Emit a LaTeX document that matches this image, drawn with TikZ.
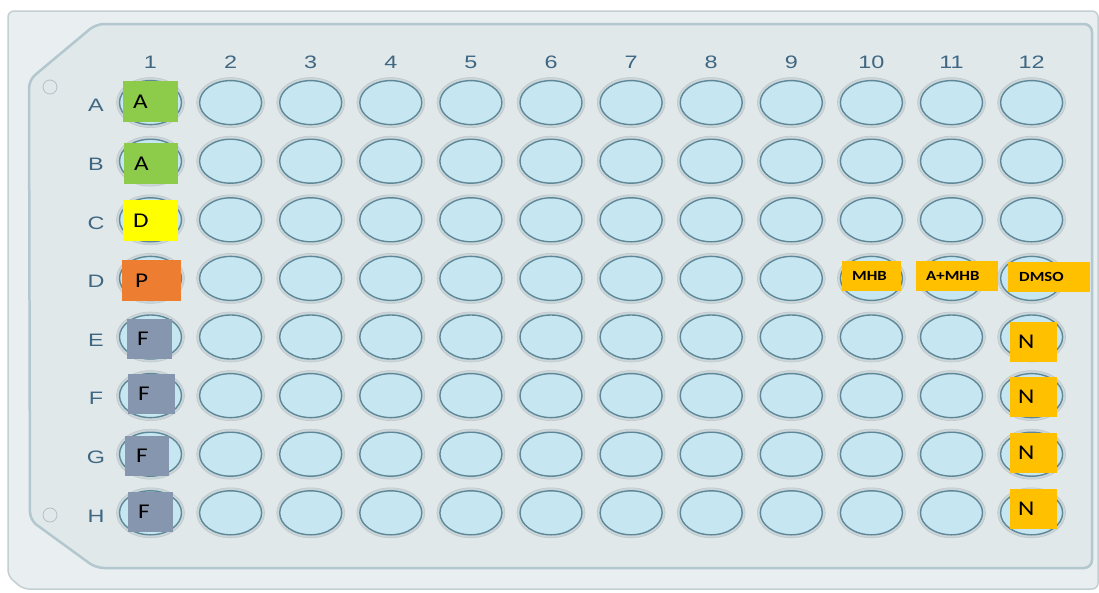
\documentclass[tikz,border=0pt]{standalone}
\usepackage{fontspec}
\usepackage{tikz}
\usetikzlibrary{shapes.geometric}
\newfontfamily\tagfont[FakeStretch=1.2]{Carlito}
\newfontfamily\rimfont[FakeStretch=1.3]{Liberation Sans}
\definecolor{platebg}{HTML}{E9EEF0}
\definecolor{plateline}{HTML}{C4CFD4}
\definecolor{panelbg}{HTML}{E0E8EA}
\definecolor{panelline}{HTML}{B3C7CF}
\definecolor{wellfill}{HTML}{C6E6F2}
\definecolor{welledge}{HTML}{5E8897}
\definecolor{wellhalo}{HTML}{CBD6DA}
\definecolor{labelblue}{HTML}{3F6782}
\definecolor{agreen}{HTML}{8DCB4B}
\definecolor{dyellow}{HTML}{FFFF00}
\definecolor{porange}{HTML}{ED7D31}
\definecolor{fgrey}{HTML}{8596AE}
\definecolor{ngold}{HTML}{FFC000}

\begin{document}
\begin{tikzpicture}[x=1pt,y=-1pt]
\tikzstyle{halo}=[ellipse,fill=wellhalo,draw=wellhalo!85!gray,line width=0.6pt,minimum width=68pt,minimum height=50pt,inner sep=0pt]
\tikzstyle{well}=[ellipse,draw=welledge,line width=1.4pt,fill=wellfill,minimum width=62pt,minimum height=44pt,inner sep=0pt]
\tikzstyle{rimlabel}=[text=labelblue,font=\rimfont\fontsize{18}{20}\selectfont,inner sep=0pt]
\tikzstyle{tag}=[rectangle,anchor=north west,inner ysep=0pt,align=left,font=\tagfont\fontsize{21}{24}\selectfont]
\tikzstyle{smalltag}=[tag,font=\tagfont\bfseries\fontsize{14}{16}\selectfont,minimum height=30pt]
\useasboundingbox (0,0) rectangle (1099,592);
\fill[white] (0,0) rectangle (1099,592);
% plate and inner panel
\draw[plateline,fill=platebg,line width=1.5pt,rounded corners=6pt] (8,11) -- (1098,11) -- (1098,589) -- (23,589) -- (8,576) -- cycle;
\draw[panelline,fill=panelbg,line width=2.5pt,rounded corners=8pt] (29,80) -- (96,24) -- (1092,24) -- (1092,568) -- (96,568) -- (30,520) -- cycle;
\node[circle,draw=plateline!80!gray,line width=0.8pt,minimum size=14pt,inner sep=0pt] (hole1) at (50,87) {};
\node[circle,draw=plateline!80!gray,line width=0.8pt,minimum size=14pt,inner sep=0pt] (hole2) at (50,515) {};
% wells
\foreach \r in {1,...,8}{
  \foreach \c in {1,...,12}{
    \node[halo] (h-\r-\c) at (70.4+80.1*\c,44+58.6*\r) {};
    \node[well] (w-\r-\c) at (70.4+80.1*\c,44+58.6*\r) {};
  }
}
\foreach \c in {1,...,12}
  \node[rimlabel] (col-\c) at (70.4+80.1*\c,62) {\c};
\foreach \L [count=\r] in {A,B,C,D,E,F,G,H}
  \node[rimlabel] (row-\r) at (96,47+58.6*\r) {\L};
% marked wells
\node[tag,fill=agreen,minimum height=41pt,inner xsep=10pt,text width=35pt] (tagA1) at (123,81) {A};
\node[tag,fill=agreen,minimum height=41pt,inner xsep=10pt,text width=34pt] (tagB1) at (124,143) {A};
\node[tag,fill=dyellow,minimum height=41pt,inner xsep=10pt,text width=35pt] (tagC1) at (123,200) {D};
\node[tag,fill=porange,minimum height=41pt,inner xsep=13pt,text width=33pt] (tagD1) at (122,260) {P};
\node[tag,fill=fgrey,minimum height=40pt,inner xsep=10pt,text width=25pt] (tagE1) at (127,319) {F};
\node[tag,fill=fgrey,minimum height=40pt,inner xsep=10pt,text width=27pt] (tagF1) at (128,374) {F};
\node[tag,fill=fgrey,minimum height=40pt,inner xsep=11pt,text width=22pt] (tagG1) at (125,436) {F};
\node[tag,fill=fgrey,minimum height=40pt,inner xsep=10pt,text width=25pt] (tagH1) at (128,492) {F};
\node[smalltag,fill=ngold,inner xsep=10pt,text width=39pt] (tagD10) at (842,261) {MHB};
\node[smalltag,fill=ngold,inner xsep=10pt,text width=62pt] (tagD11) at (916,261) {A+MHB};
\node[smalltag,fill=ngold,inner xsep=11pt,text width=60pt] (tagD12) at (1008,262) {DMSO};
\foreach \y [count=\r from 5] in {322,377,433,489}
  \node[tag,fill=ngold,minimum height=40pt,inner xsep=8pt,text width=31pt] (tag-\r-12) at (1010,\y) {N};
\end{tikzpicture}
\end{document}
